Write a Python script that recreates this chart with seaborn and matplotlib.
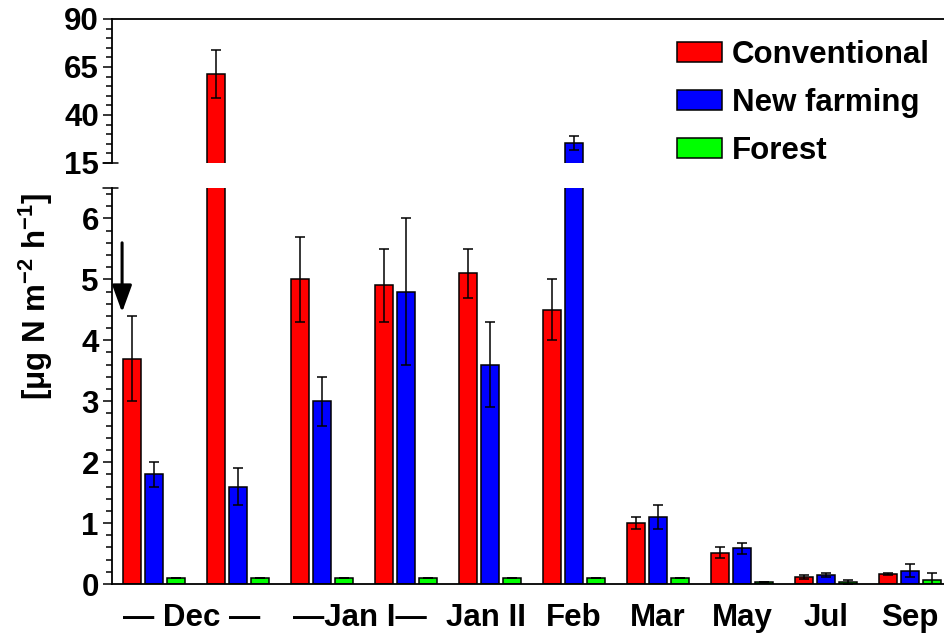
import matplotlib
matplotlib.use("Agg")
import matplotlib.pyplot as plt
from matplotlib.lines import Line2D
from matplotlib.ticker import MultipleLocator, FixedLocator
import seaborn as sns
import pandas as pd
import numpy as np

# ---------------- data ----------------
groups = ["Dec a", "Dec b", "Jan I a", "Jan I b", "Jan II", "Feb", "Mar", "May", "Jul", "Sep"]
series = ["Conventional", "New farming", "Forest"]
conventional = [3.7, 61.4, 5.0, 4.9, 5.1, 4.5, 1.0, 0.51, 0.11, 0.16]
conventional_err = [0.7, 12.5, 0.7, 0.6, 0.4, 0.5, 0.1, 0.09, 0.03, 0.015]
new_farming = [1.8, 1.6, 3.0, 4.8, 3.6, 25.5, 1.1, 0.59, 0.15, 0.22]
new_farming_err = [0.2, 0.3, 0.4, 1.2, 0.7, 3.5, 0.2, 0.09, 0.035, 0.11]
forest = [0.1, 0.1, 0.1, 0.1, 0.1, 0.1, 0.1, 0.03, 0.033, 0.06]
forest_err = [0, 0, 0, 0, 0, 0, 0, 0.005, 0.025, 0.12]

tick_positions = [0.45, 2.45, 3.95, 5, 6, 7, 8, 9]
tick_labels = ["— Dec —", "—Jan I—", "Jan II", "Feb", "Mar", "May", "Jul", "Sep"]
colors = ["#FF0000", "#0000FF", "#00FF00"]
arrow_x, arrow_y_start, arrow_y_end = -0.38, 5.6, 4.46

values = [conventional, new_farming, forest]
errors = [conventional_err, new_farming_err, forest_err]
df = pd.DataFrame({
    "group": groups * 3,
    "series": sum([[s] * len(groups) for s in series], []),
    "value": conventional + new_farming + forest,
})

# ---------------- style ----------------
sns.set_theme(style="ticks")
plt.rcParams["font.family"] = ["Liberation Sans", "DejaVu Sans"]
plt.rcParams["font.weight"] = "bold"
plt.rcParams["text.color"] = "black"
plt.rcParams["axes.labelcolor"] = "black"
plt.rcParams["xtick.color"] = "black"
plt.rcParams["ytick.color"] = "black"
plt.rcParams["mathtext.fontset"] = "custom"
plt.rcParams["mathtext.rm"] = "Liberation Sans:bold"
plt.rcParams["mathtext.bf"] = "Liberation Sans:bold"
plt.rcParams["mathtext.it"] = "Liberation Sans:bold"
plt.rcParams["mathtext.default"] = "bf"

FS = 22.5
W, H = 944, 643
fig = plt.figure(figsize=(W / 100, H / 100), dpi=100)
xl = 112
ax_b = fig.add_axes([xl / W, (H - 584) / H, 1 - xl / W, (584 - 188) / H])
ax_t = fig.add_axes([xl / W, (H - 163) / H, 1 - xl / W, (163 - 19) / H])

for ax, legend in ((ax_b, False), (ax_t, True)):
    sns.barplot(data=df, x="group", y="value", hue="series", order=groups,
                hue_order=series, palette=colors, errorbar=None, gap=0.2,
                edgecolor="black", linewidth=1.1, saturation=1, ax=ax,
                legend=legend)
    for cont, errs, vals in zip(ax.containers, errors, values):
        xs = [p.get_x() + p.get_width() / 2 for p in cont.patches]
        ax.errorbar(xs, vals, yerr=errs, fmt="none", ecolor="black",
                    elinewidth=1.1, capsize=3.4, capthick=1.1, zorder=5)
    ax.set_xlim(-0.5, 9.5 - 8 / 84)
    ax.set_xlabel("")
    ax.set_ylabel("")
    ax.tick_params(axis="y", which="major", direction="out", length=6.5,
                   width=1.1, labelsize=FS, pad=3, color="black")
    ax.tick_params(axis="y", which="minor", direction="out", length=4.3,
                   width=1.1, color="black")
    for s in ax.spines.values():
        s.set_linewidth(1.3)
        s.set_color("black")

# bottom axes
ax_b.set_ylim(0, 6.5)
ax_b.yaxis.set_major_locator(FixedLocator([0, 1, 2, 3, 4, 5, 6]))
ax_b.yaxis.set_minor_locator(MultipleLocator(0.2))
ax_b.spines["top"].set_visible(False)
ax_b.spines["right"].set_visible(False)
ax_b.set_xticks(tick_positions)
ax_b.set_xticklabels(tick_labels, fontsize=FS, fontweight="bold", color="black")
ax_b.tick_params(axis="x", length=0, pad=14)

# top axes
ax_t.set_ylim(15, 90)
ax_t.yaxis.set_major_locator(FixedLocator([15, 40, 65, 90]))
ax_t.yaxis.set_minor_locator(MultipleLocator(5))
ax_t.spines["bottom"].set_visible(False)
ax_t.spines["right"].set_visible(False)
ax_t.set_xticks([])

for ax in (ax_b, ax_t):
    ax.set_yticklabels([str(int(v)) for v in ax.get_yticks()], fontsize=FS,
                       fontweight="bold", color="black")

# legend
handles, labels = ax_t.get_legend_handles_labels()
leg = ax_t.legend(handles, labels, loc="upper left", bbox_to_anchor=(677 / W, 1 - 40 / H),
                  bbox_transform=fig.transFigure, frameon=False,
                  prop={"weight": "bold", "size": FS}, handlelength=1.45, handleheight=0.62,
                  handletextpad=0.3, labelspacing=0.58, borderpad=0, borderaxespad=0)
for t in leg.get_texts():
    t.set_color("black")

# axis break marks
for yb in (163, 188):
    fig.add_artist(Line2D([103 / W, 118 / W], [1 - yb / H, 1 - yb / H],
                          color="black", lw=1.1, transform=fig.transFigure))

# arrow
ax_b.annotate("", xy=(arrow_x, arrow_y_end), xytext=(arrow_x, arrow_y_start),
              arrowprops=dict(arrowstyle="-|>,head_length=1.1,head_width=0.4",
                              mutation_scale=15, lw=2.2, color="black",
                              shrinkA=0, shrinkB=0))

# y label
fig.text(36 / W, 1 - 297 / H, "[μg N m$^{-2}$ h$^{-1}$]", rotation=90,
         ha="center", va="center", fontsize=FS, fontweight="bold", color="black")

fig.savefig("out.png", dpi=100)
